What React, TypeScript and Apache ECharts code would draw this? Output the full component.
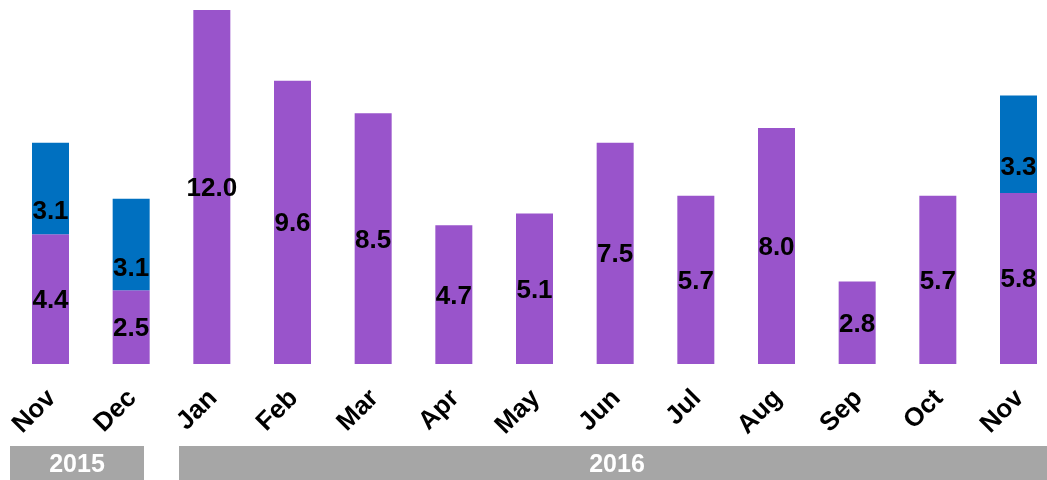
import React, { useEffect, useRef } from "react";
import * as echarts from "echarts";

const categories = ["Nov", "Dec", "Jan", "Feb", "Mar", "Apr", "May", "Jun", "Jul", "Aug", "Sep", "Oct", "Nov"];
const purpleValues = [4.4, 2.5, 12.0, 9.6, 8.5, 4.7, 5.1, 7.5, 5.7, 8.0, 2.8, 5.7, 5.8];
const blueValues: (number | null)[] = [3.1, 3.1, null, null, null, null, null, null, null, null, null, null, 3.3];
const yearLabels = ["2015", "2016"];

const FONT = "'Liberation Sans', Arial, sans-serif";

export default function App() {
  const ref = useRef<HTMLDivElement>(null);
  useEffect(() => {
    if (!ref.current) return;
    const chart = echarts.init(ref.current, null, { renderer: "svg" });
    const labelStyle = {
      show: true,
      position: "inside" as const,
      color: "#000",
      fontFamily: FONT,
      fontWeight: "bold" as const,
      fontSize: 26,
      formatter: (p: any) => (p.value == null ? "" : Number(p.value).toFixed(1)),
    };
    chart.setOption({
      animation: false,
      grid: { left: 50.5, right: 1047 - 1018.5, top: 10, bottom: 116, containLabel: false },
      xAxis: {
        type: "category",
        data: categories,
        boundaryGap: false,
        axisLine: { show: false },
        axisTick: { show: false },
        splitLine: { show: false },
        axisLabel: {
          rotate: 45,
          margin: 29,
          interval: 0,
          color: "#000",
          fontFamily: FONT,
          fontWeight: "bold",
          fontSize: 26,
        },
      },
      yAxis: { type: "value", min: 0, max: 12, show: false, splitLine: { show: false } },
      series: [
        {
          type: "bar",
          stack: "total",
          data: purpleValues,
          barWidth: 37,
          itemStyle: { color: "#9954cb" },
          label: labelStyle,
        },
        {
          type: "bar",
          stack: "total",
          data: blueValues,
          barWidth: 37,
          itemStyle: { color: "#0070c0" },
          label: { ...labelStyle, offset: [0, 22] },
        },
      ],
      graphic: [
        { type: "rect", shape: { x: 10, y: 446, width: 134, height: 34 }, style: { fill: "#a6a6a6" } },
        { type: "rect", shape: { x: 179, y: 446, width: 868, height: 34 }, style: { fill: "#a6a6a6" } },
        {
          type: "text",
          x: 77,
          y: 463,
          style: { text: yearLabels[0], fill: "#fff", font: `bold 25px ${FONT}`, align: "center", verticalAlign: "middle" },
        },
        {
          type: "text",
          x: 617,
          y: 463,
          style: { text: yearLabels[1], fill: "#fff", font: `bold 25px ${FONT}`, align: "center", verticalAlign: "middle" },
        },
      ],
    });
    return () => chart.dispose();
  }, []);
  return <div ref={ref} style={{ position: "fixed", left: 0, top: 0, width: 1047, height: 480 }} />;
}
